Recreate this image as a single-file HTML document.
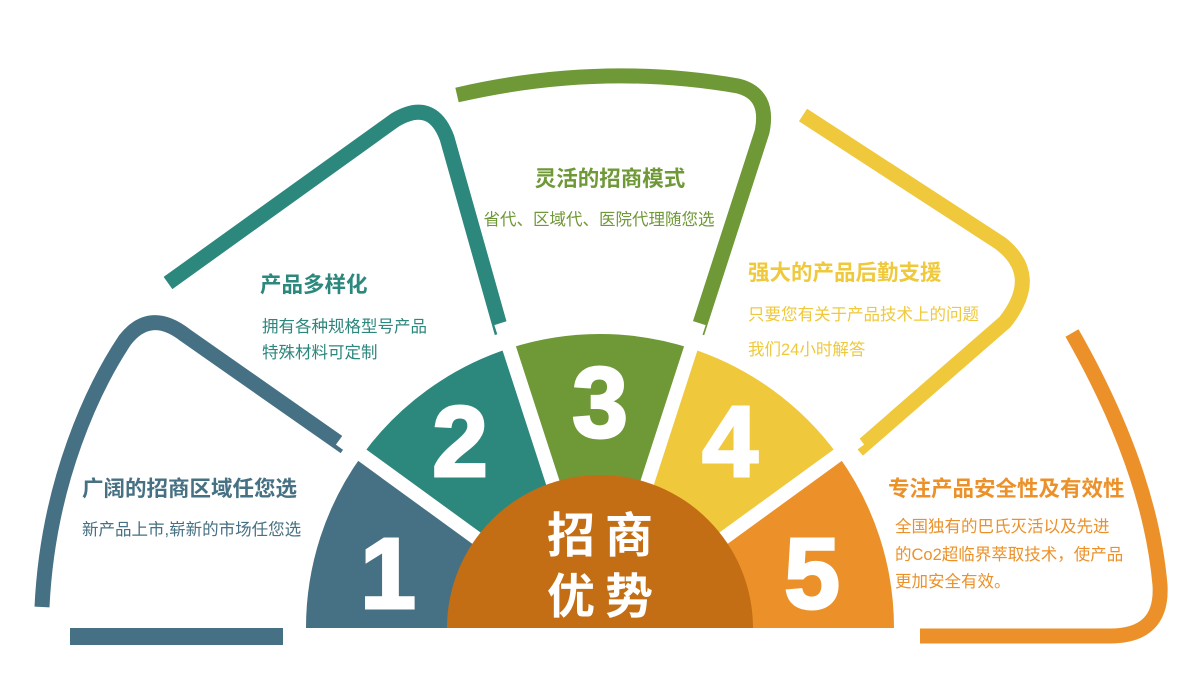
<!DOCTYPE html>
<html><head><meta charset="utf-8"><style>
body{margin:0;background:#fff;width:1200px;height:685px;overflow:hidden}
svg{display:block}
text{font-family:"Liberation Sans","Noto Sans CJK SC",sans-serif}
</style></head><body>
<svg width="1200" height="685" viewBox="0 0 1200 685">
<g fill="none" stroke-width="15" stroke-linecap="butt" stroke-linejoin="round">
<path d="M42,607 C48,480 95,385 125,340 Q150,308 185,335 L345,447" stroke="#467083"/>
<path d="M168,283 L395,120 Q432,98 447,138 L502,333" stroke="#2c877d"/>
<path d="M457,95 Q600,62 738,86 Q770,94 762,132 L697,333" stroke="#6f9837"/>
<path d="M803,115 L1000,243 Q1042,275 1005,322 L858,450" stroke="#efc93b"/>
<path d="M1072,333 Q1150,470 1160,585 Q1163,636 1110,636 L920,636" stroke="#ec912a"/>
</g>
<rect x="70" y="628" width="213" height="17" fill="#467083"/>
<g transform="translate(600,628)">
<path d="M0,0 L-294,0 A294,294 0 0 1 -237.9,-172.8 Z" fill="#467083"/>
<path d="M0,0 L-237.9,-172.8 A294,294 0 0 1 -90.9,-279.6 Z" fill="#2c877d"/>
<path d="M0,0 L-90.9,-279.6 A294,294 0 0 1 90.9,-279.6 Z" fill="#6f9837"/>
<path d="M0,0 L90.9,-279.6 A294,294 0 0 1 237.9,-172.8 Z" fill="#efc93b"/>
<path d="M0,0 L237.9,-172.8 A294,294 0 0 1 294,0 Z" fill="#ec912a"/>
<g stroke="#fff" stroke-width="14">
<line x1="0" y1="0" x2="-260" y2="-189"/>
<line x1="0" y1="0" x2="-99" y2="-305"/>
<line x1="0" y1="0" x2="99" y2="-305"/>
<line x1="0" y1="0" x2="260" y2="-189"/>
</g>
<path d="M-153,0 A153,153 0 0 1 153,0 Z" fill="#c36e14"/>
</g>
<g fill="#fff" font-weight="bold" font-size="100" text-anchor="middle" stroke="#fff" stroke-width="3">
<text x="388" y="608">1</text>
<text x="460" y="476">2</text>
<text x="600" y="437">3</text>
<text x="730" y="476">4</text>
<text x="812" y="608">5</text>
</g>
<g fill="#fff" font-weight="bold" font-size="48" text-anchor="middle" letter-spacing="10">
<text x="605" y="552">招商</text>
<text x="605" y="613">优势</text>
</g>
<g font-size="16.5">
<text x="260" y="292" font-size="21.5" font-weight="bold" fill="#2c877d">产品多样化</text>
<text x="262" y="332" fill="#2c877d">拥有各种规格型号产品</text>
<text x="262" y="358" fill="#2c877d">特殊材料可定制</text>
<text x="610" y="186" font-size="21.5" font-weight="bold" fill="#6f9837" text-anchor="middle">灵活的招商模式</text>
<text x="599" y="225" fill="#6f9837" text-anchor="middle">省代、区域代、医院代理随您选</text>
<text x="748" y="280" font-size="21.5" font-weight="bold" fill="#efc93b">强大的产品后勤支援</text>
<text x="748" y="320" fill="#efc93b">只要您有关于产品技术上的问题</text>
<text x="748" y="355" fill="#efc93b">我们24小时解答</text>
<text x="82" y="496" font-size="21.5" font-weight="bold" fill="#467083">广阔的招商区域任您选</text>
<text x="82" y="535" fill="#467083">新产品上市,崭新的市场任您选</text>
<text x="888" y="496" font-size="21.5" font-weight="bold" fill="#ec912a">专注产品安全性及有效性</text>
<text x="895" y="532" fill="#ec912a">全国独有的巴氏灭活以及先进</text>
<text x="895" y="560" fill="#ec912a">的Co2超临界萃取技术，使产品</text>
<text x="895" y="587" fill="#ec912a">更加安全有效。</text>
</g>
</svg>
</body></html>
